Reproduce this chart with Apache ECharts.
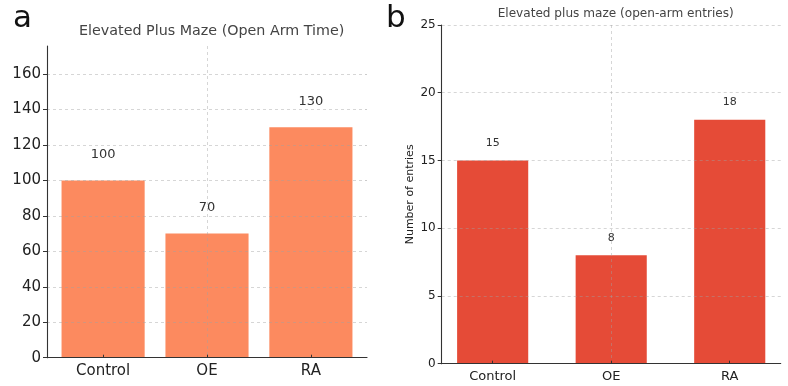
<!DOCTYPE html>
<html>
<head>
<meta charset="utf-8">
<script src="https://cdn.jsdelivr.net/npm/echarts@6/dist/echarts.min.js"></script>
<style>
html,body{margin:0;padding:0;background:#fff;}
#c{width:788px;height:386px;}
</style>
</head>
<body>
<div id="c"></div>
<script>
// ---- data ----
const categories = ['Control', 'OE', 'RA'];
const openArmTime = [100, 70, 130];
const openArmEntries = [15, 8, 18];
const titleA = 'Elevated Plus Maze (Open Arm Time)';
const titleB = 'Elevated plus maze (open-arm entries)';
const yNameB = 'Number of entries';

const FONT = '"DejaVu Sans", sans-serif';
const chart = echarts.init(document.getElementById('c'), null, {renderer: 'canvas'});

// grid geometry (pixels)
const gA = {left: 47, top: 46, width: 320, height: 311.7};
const gB = {left: 441.7, top: 25, width: 339, height: 338.7};
const xlimA = [-0.54, 2.54];
const xlimB = [-0.43, 2.43];
const bwA = gA.width / (xlimA[1] - xlimA[0]) * 0.8;
const bwB = gB.width / (xlimB[1] - xlimB[0]) * 0.6;

const gridStyle = {color: 'rgba(160,160,160,0.55)', width: 0.8, type: [3, 3]};
const idx = categories.map((c, i) => i);

function xAxis(gi, lim, fs) {
  return {
    type: 'value', gridIndex: gi, min: lim[0], max: lim[1], z: 3,
    axisLine: {show: true, onZero: false, lineStyle: {color: '#333', width: 1.1}},
    axisTick: {show: true, inside: true, length: 3, customValues: idx, lineStyle: {color: '#333'}},
    axisLabel: {show: true, customValues: idx, color: '#222', fontFamily: FONT, fontSize: fs, margin: 6,
      formatter: v => categories[Math.round(v)] || ''},
    splitLine: {show: true, showMinLine: false, showMaxLine: false, lineStyle: gridStyle}
  };
}

chart.setOption({
  animation: false,
  backgroundColor: '#fff',
  title: [
    {text: 'a', left: 8, top: -2, textStyle: {fontFamily: FONT, fontSize: 31, fontWeight: 'normal', color: '#111'}},
    {text: 'b', left: 381, top: -2, textStyle: {fontFamily: FONT, fontSize: 31, fontWeight: 'normal', color: '#111'}},
    {text: titleA, left: 206.7, top: 19, textAlign: 'center', textStyle: {fontFamily: FONT, fontSize: 14.3, fontWeight: 'normal', color: '#444'}},
    {text: titleB, left: 610.7, top: 3, textAlign: 'center', textStyle: {fontFamily: FONT, fontSize: 12.1, fontWeight: 'normal', color: '#444'}}
  ],
  grid: [
    {left: gA.left, top: gA.top, width: gA.width, height: gA.height},
    {left: gB.left, top: gB.top, width: gB.width, height: gB.height}
  ],
  xAxis: [xAxis(0, xlimA, 15), xAxis(1, xlimB, 13)],
  yAxis: [
    {type: 'value', gridIndex: 0, min: 0, max: 175.8, interval: 20, z: 3,
      axisLine: {show: true, onZero: false, lineStyle: {color: '#333', width: 1.1}},
      axisTick: {show: true, length: 4, lineStyle: {color: '#333'}},
      axisLabel: {color: '#222', fontFamily: FONT, fontSize: 15, margin: 6, showMaxLabel: false,
        formatter: v => (v % 20 === 0 ? String(v) : '')},
      splitLine: {show: true, showMinLine: false, showMaxLine: false, lineStyle: gridStyle}},
    {type: 'value', gridIndex: 1, min: 0, max: 25, interval: 5, z: 3,
      name: yNameB, nameLocation: 'middle', nameGap: 26,
      nameTextStyle: {fontFamily: FONT, fontSize: 11, color: '#222'},
      axisLine: {show: true, onZero: false, lineStyle: {color: '#333', width: 1.1}},
      axisTick: {show: true, length: 4, lineStyle: {color: '#333'}},
      axisLabel: {color: '#222', fontFamily: FONT, fontSize: 12, margin: 6},
      splitLine: {show: true, showMinLine: false, showMaxLine: true, lineStyle: gridStyle}}
  ],
  series: [
    {type: 'bar', xAxisIndex: 0, yAxisIndex: 0, barWidth: bwA,
      data: openArmTime.map((v, i) => [i, v]),
      itemStyle: {color: '#fc8a5f'},
      label: {show: true, position: 'top', distance: 19, color: '#333', fontFamily: FONT, fontSize: 13,
        formatter: p => String(p.value[1])}},
    {type: 'bar', xAxisIndex: 1, yAxisIndex: 1, barWidth: bwB,
      data: openArmEntries.map((v, i) => [i, v]),
      itemStyle: {color: '#e54b37'},
      label: {show: true, position: 'top', distance: 12, color: '#333', fontFamily: FONT, fontSize: 11,
        formatter: p => String(p.value[1])}}
  ]
});
</script>
</body>
</html>
